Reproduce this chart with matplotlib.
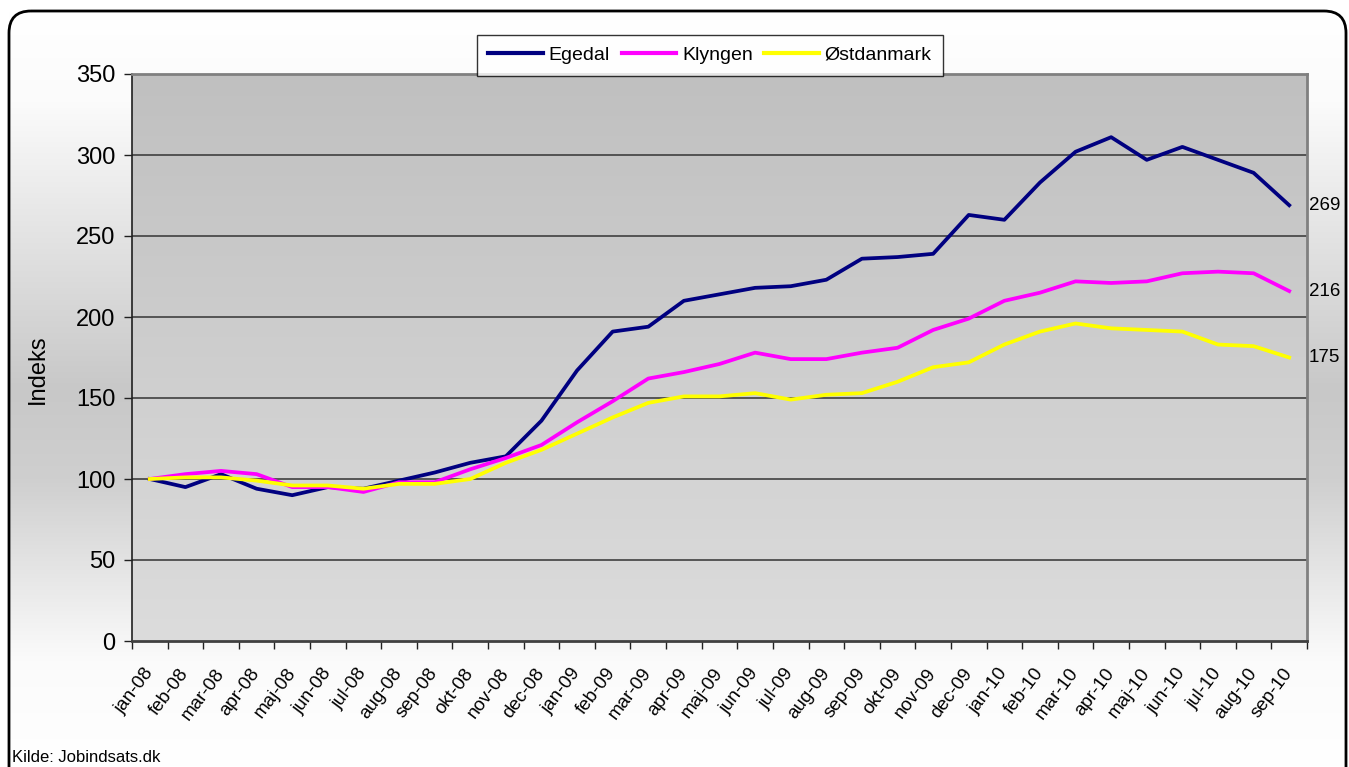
import matplotlib
matplotlib.use("Agg")
import matplotlib.pyplot as plt
import numpy as np
from matplotlib.patches import FancyBboxPatch
from matplotlib.colors import LinearSegmentedColormap

plt.rcParams['font.family'] = ['Liberation Sans', 'DejaVu Sans']

maaneder = ["jan", "feb", "mar", "apr", "maj", "jun", "jul", "aug", "sep", "okt", "nov", "dec"]
labels = [m + "-" + a for a in ["08", "09", "10"] for m in maaneder][:33]

egedal = [100, 95, 103, 94, 90, 95, 94, 99, 104, 110, 114, 136, 167, 191, 194, 210, 214,
          218, 219, 223, 236, 237, 239, 263, 260, 283, 302, 311, 297, 305, 297, 289, 269]
klyngen = [100, 103, 105, 103, 95, 95, 92, 98, 98, 106, 113, 121, 135, 148, 162, 166, 171,
           178, 174, 174, 178, 181, 192, 199, 210, 215, 222, 221, 222, 227, 228, 227, 216]
ostdanmark = [100, 101, 101, 99, 96, 96, 94, 97, 97, 100, 110, 118, 128, 138, 147, 151, 151,
              153, 149, 152, 153, 160, 169, 172, 183, 191, 196, 193, 192, 191, 183, 182, 175]

W, H = 1349, 767
fig = plt.figure(figsize=(W / 100, H / 100), dpi=100)

# baggrund med gradient og afrundet kant
bg = fig.add_axes([0, 0, 1, 1], zorder=-10)
bg.set_xlim(0, W)
bg.set_ylim(H, 0)
bg.axis("off")
cmap_bg = LinearSegmentedColormap.from_list("bg", [(0, "#ffffff"), (0.12, "#fbfbfb"),
                                                    (0.5, "#c8c8c8"), (0.62, "#cfcfcf"),
                                                    (0.86, "#fbfbfb"), (1, "#ffffff")])
grad = np.linspace(0, 1, 256).reshape(-1, 1)
bg.imshow(grad, cmap=cmap_bg, aspect="auto", extent=(9, 1346, 767, 11))
bg.add_patch(plt.Rectangle((0, 0), W, 11, color="white", zorder=1))
bg.add_patch(FancyBboxPatch((9, 11), 1337, 820, boxstyle="round,pad=0,rounding_size=22",
                            fill=False, edgecolor="black", linewidth=2, zorder=2))

ax = fig.add_axes([132 / W, 1 - 641 / H, (1307 - 132) / W, (641 - 74) / H])
x = np.arange(len(labels))

cmap_ax = LinearSegmentedColormap.from_list("ax", ["#c0c0c0", "#dcdcdc"])
ax.imshow(grad, cmap=cmap_ax, aspect="auto", extent=(-0.5, 32.5, 0, 350), zorder=0)

ax.plot(x, egedal, color="#000080", linewidth=2.7, label="Egedal", zorder=3)
ax.plot(x, klyngen, color="#ff00ff", linewidth=2.7, label="Klyngen", zorder=3)
ax.plot(x, ostdanmark, color="#ffff00", linewidth=2.7, label="Østdanmark", zorder=3)

ax.set_xlim(-0.5, 32.5)
ax.set_ylim(0, 350)
ax.set_yticks(range(0, 351, 50))
for v in range(50, 301, 50):
    ax.axhline(v, color="#404040", linewidth=1.2, zorder=1)

ax.set_xticks(np.arange(-0.5, 33, 1))
ax.set_xticklabels([])
ax.set_xticks(x, minor=True)
ax.set_xticklabels(labels, minor=True, rotation=53, ha="right", va="center",
                   rotation_mode="anchor", fontsize=13.5)
ax.tick_params(axis="x", which="major", length=6, width=1, color="#202020", direction="out")
ax.tick_params(axis="x", which="minor", length=0, pad=21)
ax.tick_params(axis="y", length=6, width=1, color="#202020", labelsize=17, pad=6)

for s in ["top", "right"]:
    ax.spines[s].set_color("#808080")
    ax.spines[s].set_linewidth(2)
ax.spines["left"].set_color("#202020")
ax.spines["left"].set_linewidth(1.2)
ax.spines["bottom"].set_color("#404040")
ax.spines["bottom"].set_linewidth(2)

ax.set_ylabel("Indeks", fontsize=17)
ax.yaxis.set_label_coords(-0.071, 0.48)

for serie in [egedal, klyngen, ostdanmark]:
    ax.annotate(str(serie[-1]), xy=(x[-1], serie[-1]), xytext=(14, 0), textcoords="offset points",
                va="center", ha="left", fontsize=13.5, annotation_clip=False,
                family=["Liberation Sans Narrow", "Liberation Sans", "DejaVu Sans"])

leg = fig.legend(loc="upper center", bbox_to_anchor=(710 / W, 1 - 25 / H), ncol=3,
                 fontsize=14, frameon=True, fancybox=False, edgecolor="black",
                 handlelength=2.8, handletextpad=0.3, columnspacing=0.6, borderpad=0.6)
leg.get_frame().set_linewidth(1)
for line in leg.get_lines():
    line.set_linewidth(3)

fig.text(12 / W, 1 - 758 / H, "Kilde: Jobindsats.dk", fontsize=12, va="center", ha="left")

fig.savefig("out.png", dpi=100)
